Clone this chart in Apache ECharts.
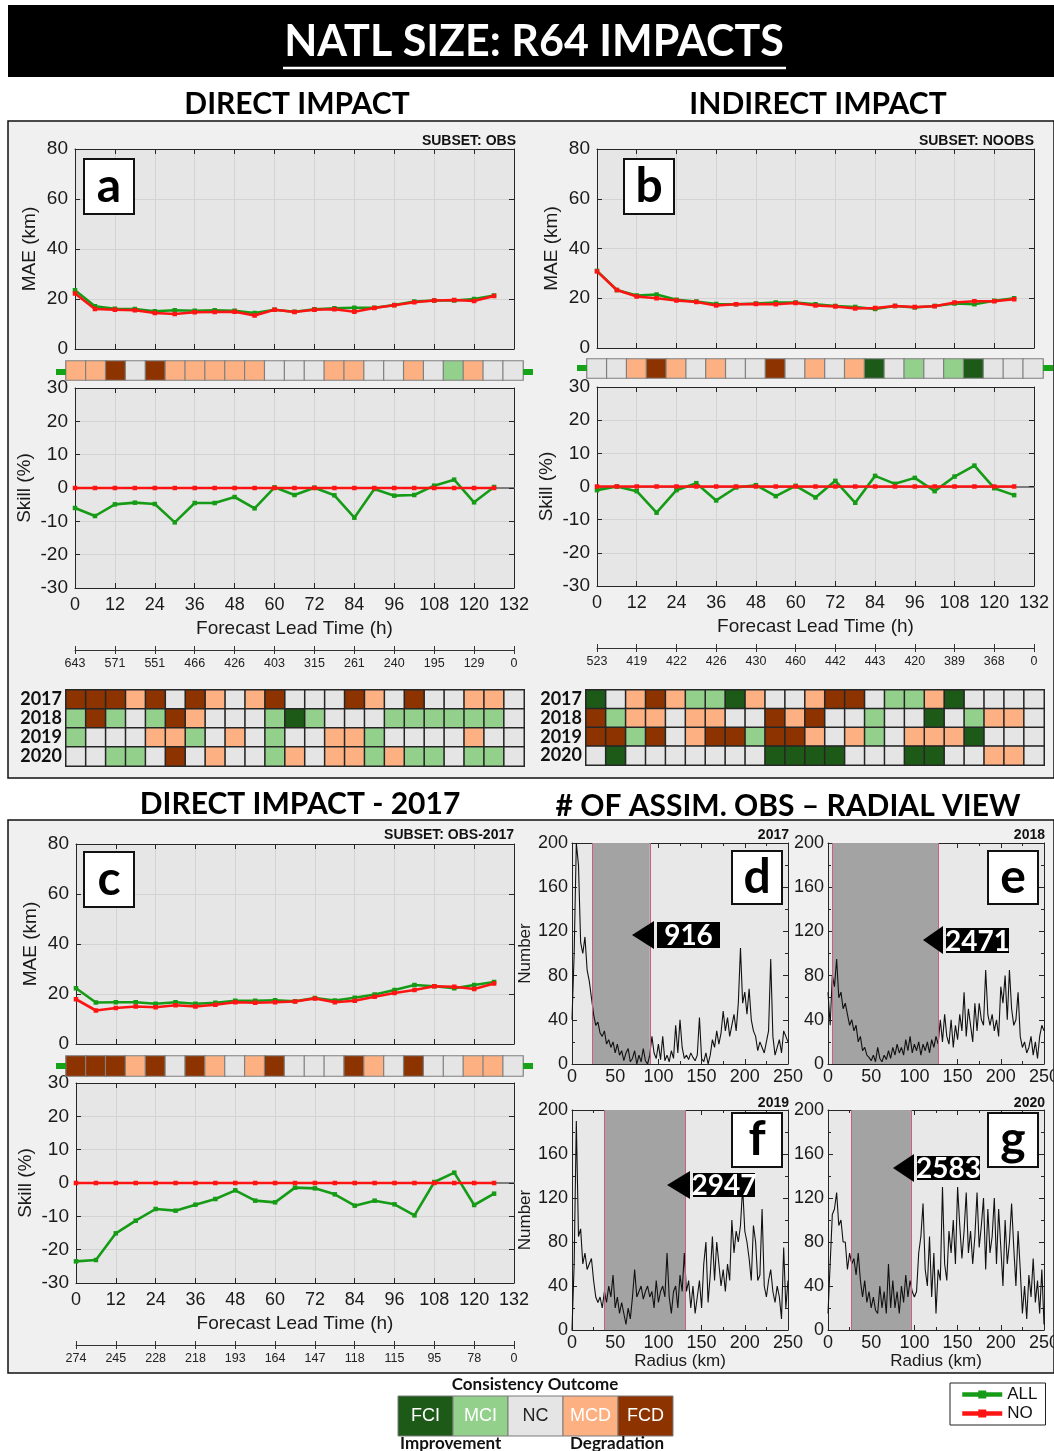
<!DOCTYPE html>
<html><head><meta charset="utf-8">
<script src="https://cdn.jsdelivr.net/npm/echarts@6/dist/echarts.min.js"></script>
<style>html,body{margin:0;padding:0;background:#fff}#c{width:1054px;height:1451px}</style>
</head><body><div id="c"></div><script>
// ---------------- DATA ----------------
const leadHours = [0,6,12,18,24,30,36,42,48,54,60,66,72,78,84,90,96,102,108,114,120,126];
const cellHours = ['0','6','12','18','24','30','36','42','48','54','60','66','72','78','84','90','96','102','108','114','120','126','132'];
const years = ['2017','2018','2019','2020'];

// Panel a (direct impact, subset OBS)
const maeAllA = [23.5,17.1,16.1,16.0,15.1,15.5,15.3,15.5,15.3,14.4,15.7,14.9,15.9,16.3,16.5,16.5,17.6,19.0,19.4,19.4,20.0,21.4];
const maeNoA  = [22.2,16.0,15.7,15.5,14.4,14.0,14.7,14.8,14.9,13.4,15.7,14.8,15.7,15.9,14.9,16.4,17.5,18.7,19.4,19.6,19.2,21.2];
const skillAllA = [-6.0,-8.4,-4.9,-4.4,-4.8,-10.3,-4.5,-4.5,-2.7,-6.1,0.2,-2.1,0.1,-2.2,-8.9,-0.3,-2.3,-2.1,0.7,2.5,-4.3,0.3];
const skillNoA  = [0,0,0,0,0,0,0,0,0,0,0,0,0,0,0,0,0,0,0,0,0,0];
const countsA = ['643','571','551','466','426','403','315','261','240','195','129','0'];
// outcome codes: -2 FCD, -1 MCD, 0 NC, 1 MCI, 2 FCI
const stripA = [-1,-1,-2,0,-2,-1,-1,-1,-1,-1,0,0,0,-1,-1,0,0,-1,0,1,-1,0,0];
const yearA2017 = [-2,-2,-2,-1,-2,0,-2,-1,0,-1,-2,0,0,0,-2,-1,0,-2,0,0,-1,-1,0];
const yearA2018 = [1,-2,1,0,1,-2,-1,0,0,0,1,2,1,0,0,0,1,1,1,1,1,1,0];
const yearA2019 = [1,0,0,0,-1,-1,1,0,-1,0,1,0,0,-1,-1,1,0,0,0,0,-1,0,0];
const yearA2020 = [0,0,1,1,0,-2,0,-1,0,0,1,-1,0,-1,-1,1,-1,1,1,0,1,1,0];

// Panel b (indirect impact, subset NOOBS)
const maeAllB = [31.0,23.3,21.1,21.5,19.4,18.7,17.7,17.6,17.9,18.3,18.3,17.6,16.9,16.5,15.7,16.9,16.3,16.9,17.9,17.6,19.0,20.0];
const maeNoB  = [30.8,23.3,20.7,20.0,19.1,18.5,17.1,17.6,17.7,17.6,18.1,17.1,16.7,15.9,16.1,16.9,16.5,16.8,18.3,18.8,18.8,19.6];
const skillAllB = [-1.1,0.0,-1.4,-7.9,-1.1,1.0,-4.2,-0.3,0.4,-2.9,0.2,-3.3,1.7,-4.9,3.2,0.8,2.6,-1.4,3.0,6.3,-0.5,-2.6];
const skillNoB  = [0,0,0,0,0,0,0,0,0,0,0,0,0,0,0,0,0,0,0,0,0,0];
const countsB = ['523','419','422','426','430','460','442','443','420','389','368','0'];
const stripB = [0,0,-1,-2,-1,0,-1,0,0,-2,0,-1,0,-1,2,0,1,0,1,2,0,0,0];
const yearB2017 = [2,0,-1,-2,-1,1,1,2,-1,0,0,-1,-2,-2,0,1,1,-1,2,0,0,0,0];
const yearB2018 = [-2,1,-1,-1,0,-1,-1,0,0,-2,-1,-2,0,0,1,0,0,2,0,1,-1,-1,0];
const yearB2019 = [-2,-2,1,-2,0,-1,-2,-2,1,-2,-2,-1,0,-1,1,0,-1,-1,-1,2,0,0,0];
const yearB2020 = [0,2,0,0,0,0,0,0,0,2,2,2,2,0,0,0,2,2,0,0,-1,-1,0];

// Panel c (direct impact 2017, subset OBS-2017)
const maeAllC = [22.3,16.6,16.7,16.7,16.1,16.7,16.1,16.5,17.3,17.3,17.5,17.1,18.4,17.4,18.5,19.8,21.6,23.6,23.1,22.3,23.6,24.8];
const maeNoC  = [17.9,13.4,14.4,15.0,14.7,15.5,15.0,15.7,16.7,16.5,16.7,17.0,18.2,16.7,17.3,18.9,20.4,21.6,23.1,22.9,22.0,24.2];
const skillAllC = [-23.5,-23.1,-15.1,-11.3,-7.8,-8.3,-6.5,-4.8,-2.2,-5.3,-5.8,-1.4,-1.6,-3.4,-6.8,-5.3,-6.4,-9.7,0.3,3.1,-6.6,-3.2];
const skillNoC  = [0,0,0,0,0,0,0,0,0,0,0,0,0,0,0,0,0,0,0,0,0,0];
const countsC = ['274','245','228','218','193','164','147','118','115','95','78','0'];
const stripC = [-2,-2,-2,-1,-2,0,-2,-1,0,-1,-2,0,0,0,-2,-1,0,-2,0,0,-1,-1,0];

// Panels d-g: number of assimilated obs vs radius (km), sampled every 2.5 km
const radiusKm = Array.from({length:101}, (_, i) => i * 2.5);
const obs2017 = [40,100,200,180,110,100,115,85,75,60, 45,35,38,28,25,30,18,22,15,20, 10,18,8,12,3,10,14,2,5,12, 0,8,2,14,3,0,8,25,10,5, 18,4,25,3,8,2,12,5,35,10, 40,15,5,8,4,10,6,3,8,42, 5,2,10,0,8,22,15,30,18,28, 48,30,42,25,35,45,30,55,105,55, 65,45,68,40,30,25,12,20,15,10, 20,30,95,25,8,15,22,10,30,25, 20];
const obs2018 = [65,35,80,70,95,60,65,50,55,45, 35,40,30,35,20,25,12,15,8,6, 3,8,2,15,5,2,8,4,12,5, 15,8,18,10,15,8,22,12,25,10, 18,12,20,8,18,12,20,10,22,15, 25,18,40,20,45,25,18,40,15,35, 22,45,30,65,25,50,35,20,55,30, 55,40,35,85,45,35,45,30,40,25, 70,55,80,40,85,50,35,40,65,25, 15,20,10,15,25,8,20,5,25,35, 30];
const obs2019 = [0,60,190,85,92,60,70,55,60,65, 45,30,25,30,20,35,25,40,30,50, 20,30,15,25,15,5,20,10,30,55, 30,35,40,28,35,40,30,35,20,45, 25,35,40,30,70,30,15,35,40,20, 50,35,70,35,45,20,40,15,30,45, 20,60,80,25,50,85,45,80,60,40, 55,35,60,45,100,70,90,80,95,130, 90,80,65,45,95,80,45,50,110,40, 30,45,55,35,25,40,30,10,75,20, 45];
const obs2020 = [15,60,105,110,125,95,100,80,80,55, 70,60,65,50,70,45,30,45,25,35, 20,30,18,15,40,20,35,15,60,20, 45,20,35,15,40,25,50,30,45,35, 30,35,70,85,115,55,40,85,30,70, 15,55,45,130,60,45,90,70,100,60, 130,95,65,90,125,70,90,60,85,125, 75,95,120,55,110,70,85,120,60,110, 75,40,100,60,80,115,75,40,90,55, 15,40,10,50,30,65,25,45,15,55, 5];
const shade2017 = [24, 90];
const shade2018 = [5, 128];
const shade2019 = [37, 131];
const shade2020 = [27, 96];
const obsTotals = ['916','2471','2947','2583'];

const outcomeNames = ['FCI','MCI','NC','MCD','FCD'];
const outcomeCodes = [2,1,0,-1,-2];

// ---------------- STYLE ----------------
const F = 'Liberation Sans, Arial, sans-serif';
const FB = 'Lato, Open Sans, sans-serif';
const AX = '#262626';
const GREEN = '#169b16', RED = '#ff1414';
const OUTCOLORS = {'2':'#1d5a17','1':'#92d08c','0':'#e5e5e5','-1':'#fdb182','-2':'#8c3300'};

const grids=[], xAxes=[], yAxes=[], series=[], heatIdx=[], gfx=[];
function addGrid(box, bg){
  grids.push(Object.assign({outerBoundsMode:'none', containLabel:false, show:!!bg,
    backgroundColor:bg||'transparent', borderWidth:0}, box));
  return grids.length-1;
}
const tickIn = {show:true, inside:true, length:5, lineStyle:{color:AX, width:1}};
const lineAx = {show:true, onZero:false, lineStyle:{color:AX, width:1}};

function leadPlot(box, yMin, yMax, yInt, yName, yGap, xLabels, allV, noV, zero){
  const gi = addGrid(box, '#e6e6e6');
  const xi = xAxes.length;
  xAxes.push({gridIndex:gi, type:'value', min:0, max:132, interval:12, position:'bottom',
    axisLine:lineAx, axisTick:tickIn,
    axisLabel:{show:xLabels, fontSize:18, color:'#1a1a1a', fontFamily:F, margin:8, showMinLabel:true, showMaxLabel:true},
    splitLine:{show:true, lineStyle:{color:'#d3d3d3', width:1}},
    name: xLabels ? 'Forecast Lead Time (h)' : '', nameLocation:'middle', nameGap:31,
    nameTextStyle:{fontSize:19, color:'#1a1a1a', fontFamily:F}});
  xAxes.push({gridIndex:gi, type:'value', min:0, max:132, interval:12, position:'top',
    axisLine:lineAx, axisTick:tickIn, axisLabel:{show:false}, splitLine:{show:false}});
  const yi = yAxes.length;
  yAxes.push({gridIndex:gi, type:'value', min:yMin, max:yMax, interval:yInt, position:'left',
    axisLine:lineAx, axisTick:tickIn,
    axisLabel:{fontSize:19, color:'#1a1a1a', fontFamily:F, margin:7},
    splitLine:{show:true, lineStyle:{color:'#d3d3d3', width:1}},
    name:yName, nameLocation:'middle', nameGap:yGap,
    nameTextStyle:{fontSize:19, color:'#1a1a1a', fontFamily:F}});
  yAxes.push({gridIndex:gi, type:'value', min:yMin, max:yMax, interval:yInt, position:'right',
    axisLine:lineAx, axisTick:tickIn, axisLabel:{show:false}, splitLine:{show:false}});
  if (zero) {
    // zero reference line drawn as an axis line sitting on y = 0 (below the series)
    xAxes.push({gridIndex:gi, type:'value', min:0, max:132, interval:12, position:'bottom',
      axisLine:{show:true, onZero:true, onZeroAxisIndex:yi, lineStyle:{color:'#7d7d7d', width:1.8}},
      axisTick:{show:false}, axisLabel:{show:false}, splitLine:{show:false}});
  }
  series.push({type:'line', name:'ALL', xAxisIndex:xi, yAxisIndex:yi,
    data: leadHours.map((h,i)=>[h, allV[i]]), symbol:'rect', symbolSize:4.5,
    lineStyle:{color:GREEN, width:2.6}, itemStyle:{color:GREEN}, z:3});
  series.push({type:'line', name:'NO', xAxisIndex:xi, yAxisIndex:yi,
    data: leadHours.map((h,i)=>[h, noV[i]]), symbol:'rect', symbolSize:4.5,
    lineStyle:{color:RED, width:2.6}, itemStyle:{color:RED}, z:4});
}

function strip(box, vals){
  const gi = addGrid(box, null);
  const xi = xAxes.length, yi = yAxes.length;
  xAxes.push({gridIndex:gi, type:'category', data:cellHours, show:false});
  yAxes.push({gridIndex:gi, type:'category', data:['outcome'], show:false});
  series.push({type:'heatmap', xAxisIndex:xi, yAxisIndex:yi, silent:true,
    data: vals.map((v,i)=>[i,0,v]), itemStyle:{borderColor:'#808080', borderWidth:1.2}});
  heatIdx.push(series.length-1);
}

function yearGrid(box, rows){
  const gi = addGrid(box, null);
  const xi = xAxes.length, yi = yAxes.length;
  xAxes.push({gridIndex:gi, type:'category', data:cellHours, show:false});
  yAxes.push({gridIndex:gi, type:'category', data:years, inverse:true,
    axisLine:{show:false}, axisTick:{show:false}, splitLine:{show:false},
    axisLabel:{interval:0, fontSize:18, fontWeight:'bold', color:'#111', fontFamily:FB, margin:4}});
  const d = [];
  rows.forEach((r,ri)=> r.forEach((v,ci)=> d.push([ci, ri, v])));
  series.push({type:'heatmap', xAxisIndex:xi, yAxisIndex:yi, silent:true, data:d,
    itemStyle:{borderColor:'#262626', borderWidth:1.5}});
  heatIdx.push(series.length-1);
}

function countAxis(box, labels){
  const gi = addGrid(box, null);
  xAxes.push({gridIndex:gi, type:'value', min:0, max:132, interval:12, position:'bottom',
    axisLine:{show:true, onZero:false, lineStyle:{color:'#333', width:1}},
    axisTick:{show:true, length:4, lineStyle:{color:'#333'}},
    axisLabel:{fontSize:12.5, color:'#222', fontFamily:F, margin:7, showMinLabel:true, showMaxLabel:true,
      formatter:(v)=>labels[Math.round(v/12)]},
    splitLine:{show:false}});
  xAxes.push({gridIndex:gi, type:'value', min:0, max:132, interval:12, position:'bottom',
    axisLine:{show:false}, axisTick:{show:true, inside:true, length:4, lineStyle:{color:'#333'}},
    axisLabel:{show:false}, splitLine:{show:false}});
  yAxes.push({gridIndex:gi, type:'value', min:0, max:1, show:false});
}

function radial(box, vals, shade, yName, xName){
  const gi = addGrid(box, '#e8e8e8');
  const xi = xAxes.length, yi = yAxes.length;
  const minor = {show:true, splitNumber:2, length:3, lineStyle:{color:AX}};
  xAxes.push({gridIndex:gi, type:'value', min:0, max:250, interval:50, position:'bottom',
    axisLine:lineAx, axisTick:tickIn, minorTick:minor,
    axisLabel:{fontSize:18, color:'#1a1a1a', fontFamily:F, margin:4, showMinLabel:true, showMaxLabel:true},
    splitLine:{show:false}, name:xName, nameLocation:'middle', nameGap:21,
    nameTextStyle:{fontSize:17, color:'#1a1a1a', fontFamily:F}});
  xAxes.push({gridIndex:gi, type:'value', min:0, max:250, interval:50, position:'top',
    axisLine:lineAx, axisTick:tickIn, minorTick:minor, axisLabel:{show:false}, splitLine:{show:false}});
  yAxes.push({gridIndex:gi, type:'value', min:0, max:200, interval:40, position:'left',
    axisLine:lineAx, axisTick:tickIn, minorTick:minor,
    axisLabel:{fontSize:18, color:'#1a1a1a', fontFamily:F, margin:4},
    splitLine:{show:false}, name:yName, nameLocation:'middle', nameGap:33,
    nameTextStyle:{fontSize:17, color:'#1a1a1a', fontFamily:F}});
  yAxes.push({gridIndex:gi, type:'value', min:0, max:200, interval:40, position:'right',
    axisLine:lineAx, axisTick:tickIn, minorTick:minor, axisLabel:{show:false}, splitLine:{show:false}});
  series.push({type:'line', name:'obs', xAxisIndex:xi, yAxisIndex:yi, silent:true,
    data: radiusKm.map((r,i)=>[r, vals[i]]), symbol:'none',
    lineStyle:{color:'#111', width:1.1}, z:3,
    markArea:{silent:true, itemStyle:{color:'#a3a3a3'}, data:[[{xAxis:shade[0]},{xAxis:shade[1]}]]},
    markLine:{silent:true, symbol:'none', label:{show:false},
      lineStyle:{color:'#c9607e', width:1, type:'solid'}, data:[{xAxis:shade[0]},{xAxis:shade[1]}]}});
}

// ---------------- LAYOUT ----------------
leadPlot({left:75, top:149, width:439, height:200}, 0, 80, 20, 'MAE (km)', 36, false, maeAllA, maeNoA, false);
strip({left:66, top:361, width:457, height:19}, stripA);
leadPlot({left:75, top:388, width:439, height:200}, -30, 30, 10, 'Skill (%)', 41, true, skillAllA, skillNoA, true);
countAxis({left:75, top:649, width:439, height:1}, countsA);
yearGrid({left:66, top:690, width:458, height:76}, [yearA2017, yearA2018, yearA2019, yearA2020]);

leadPlot({left:597, top:149, width:437, height:199}, 0, 80, 20, 'MAE (km)', 36, false, maeAllB, maeNoB, false);
strip({left:587, top:359, width:456, height:19}, stripB);
leadPlot({left:597, top:387, width:437, height:199}, -30, 30, 10, 'Skill (%)', 41, true, skillAllB, skillNoB, true);
countAxis({left:597, top:647, width:437, height:1}, countsB);
yearGrid({left:586, top:690, width:458, height:75}, [yearB2017, yearB2018, yearB2019, yearB2020]);

leadPlot({left:76, top:844, width:438, height:200}, 0, 80, 20, 'MAE (km)', 36, false, maeAllC, maeNoC, false);
strip({left:66, top:1056, width:457, height:20}, stripC);
leadPlot({left:76, top:1083, width:438, height:200}, -30, 30, 10, 'Skill (%)', 41, true, skillAllC, skillNoC, true);
countAxis({left:76, top:1344, width:438, height:1}, countsC);

radial({left:572, top:843, width:216, height:221}, obs2017, shade2017, 'Number', '');
radial({left:828, top:843, width:216, height:221}, obs2018, shade2018, '', '');
radial({left:572, top:1110, width:216, height:220}, obs2019, shade2019, 'Number', 'Radius (km)');
radial({left:828, top:1110, width:216, height:220}, obs2020, shade2020, '', 'Radius (km)');

// ---------------- DECORATION ----------------
function txt(x, y, s, font, fill, align, z){
  return {type:'text', x, y, z: z||10, silent:true,
    style:{text:s, font, fill, align:align||'center', verticalAlign:'middle', textAlign:align||'center', textVerticalAlign:'middle'}};
}
function rect(x, y, w, h, fill, stroke, lw, z){
  return {type:'rect', z: z===undefined?10:z, silent:true, shape:{x, y, width:w, height:h},
    style:{fill, stroke: stroke||null, lineWidth: lw||0}};
}
// panel boxes
gfx.push(rect(8, 121, 1046, 657, '#f0f0f0', '#111', 1.5, -10));
gfx.push(rect(8, 820, 1046, 553, '#f0f0f0', '#111', 1.5, -10));
// title
gfx.push(rect(8, 5, 1046, 72, '#000', null, 0, 5));
gfx.push(txt(534, 42, 'NATL SIZE: R64 IMPACTS', 'bold 43px ' + FB, '#fff'));
gfx.push({type:'line', z:10, silent:true, shape:{x1:283, y1:68, x2:786, y2:68}, style:{stroke:'#fff', lineWidth:2.5}});
// headers
gfx.push(txt(297, 104, 'DIRECT IMPACT', 'bold 30px ' + FB, '#000'));
gfx.push(txt(818, 104, 'INDIRECT IMPACT', 'bold 30px ' + FB, '#000'));
gfx.push(txt(300, 804, 'DIRECT IMPACT - 2017', 'bold 30px ' + FB, '#000'));
gfx.push(txt(788, 806, '# OF ASSIM. OBS \u2013 RADIAL VIEW', 'bold 30px ' + FB, '#000'));
// subset labels
gfx.push(txt(516, 141, 'SUBSET: OBS', 'bold 14px ' + F, '#111', 'right'));
gfx.push(txt(1034, 141, 'SUBSET: NOOBS', 'bold 14px ' + F, '#111', 'right'));
gfx.push(txt(514, 835, 'SUBSET: OBS-2017', 'bold 14px ' + F, '#111', 'right'));
gfx.push(txt(789, 835, years[0], 'bold 14px ' + F, '#111', 'right'));
gfx.push(txt(1045, 835, years[1], 'bold 14px ' + F, '#111', 'right'));
gfx.push(txt(789, 1103, years[2], 'bold 14px ' + F, '#111', 'right'));
gfx.push(txt(1045, 1103, years[3], 'bold 14px ' + F, '#111', 'right'));
// panel letters
[['a',84,159,50,55],['b',624,159,50,55],['c',84,852,50,55],['d',732,851,50,53],['e',988,851,50,53],['f',732,1113,50,54],['g',988,1113,50,54]]
  .forEach(([l,x,y,w,h])=>{
    gfx.push(rect(x, y, w, h, '#fff', '#111', 2, 20));
    gfx.push(txt(x+w/2, y+h/2, l, 'bold 48px ' + FB, '#000', 'center', 21));
  });
// strip end markers
[[56,369],[523,369],[577,365],[1043,365],[56,1063],[523,1063]].forEach(([x,y])=>gfx.push(rect(x, y, 10, 6, '#17a317', null, 0, 10)));
// callouts with obs totals
[[632,935,657,922,63,26,obsTotals[0]],[923,940,946,928,63,25,obsTotals[1]],[667,1185,693,1173,62,24,obsTotals[2]],[893,1168,917,1156,63,24,obsTotals[3]]]
  .forEach(([tx,ty,bx,by,bw,bh,s])=>{
    gfx.push({type:'polygon', z:20, silent:true, shape:{points:[[tx,ty],[bx-3,ty-14],[bx-3,ty+14]]}, style:{fill:'#000'}});
    gfx.push(rect(bx, by, bw, bh, '#000', null, 0, 20));
    gfx.push(txt(bx+bw/2, by+bh/2+1, s, 'bold 28px ' + FB, '#fff', 'center', 21));
  });
// consistency outcome legend
gfx.push(txt(535, 1385, 'Consistency Outcome', 'bold 17px ' + FB, '#111'));
outcomeNames.forEach((n,i)=>{
  const c = OUTCOLORS[String(outcomeCodes[i])];
  gfx.push(rect(398 + i*55, 1396, 55, 40, c, '#7a7a7a', 1, 10));
  gfx.push(txt(398 + i*55 + 27.5, 1416, n, '18px ' + F, n === 'NC' ? '#222' : '#fff', 'center', 11));
});
gfx.push(txt(400, 1444, 'Improvement', 'bold 17px ' + FB, '#111', 'left'));
gfx.push(txt(570, 1444, 'Degradation', 'bold 17px ' + FB, '#111', 'left'));

const option = {
  animation:false,
  backgroundColor:'#ffffff',
  textStyle:{fontFamily:F},
  grid:grids, xAxis:xAxes, yAxis:yAxes, series,
  visualMap:[{type:'piecewise', show:false, seriesIndex:heatIdx, dimension:2,
    pieces: outcomeCodes.map(v=>({value:v, color:OUTCOLORS[String(v)]}))}],
  legend:{data:['ALL','NO'], orient:'vertical', left:950, top:1383, itemWidth:40, itemHeight:10, itemGap:2,
    padding:[3,8,3,10], borderColor:'#222', borderWidth:1, backgroundColor:'#fff',
    lineStyle:{width:4.5}, itemStyle:{borderWidth:0},
    textStyle:{fontSize:17, color:'#111', fontFamily:F}, selectedMode:false},
  graphic:{elements:gfx}
};
const chart = echarts.init(document.getElementById('c'), null, {renderer:'canvas'});
chart.setOption(option);
</script></body></html>
